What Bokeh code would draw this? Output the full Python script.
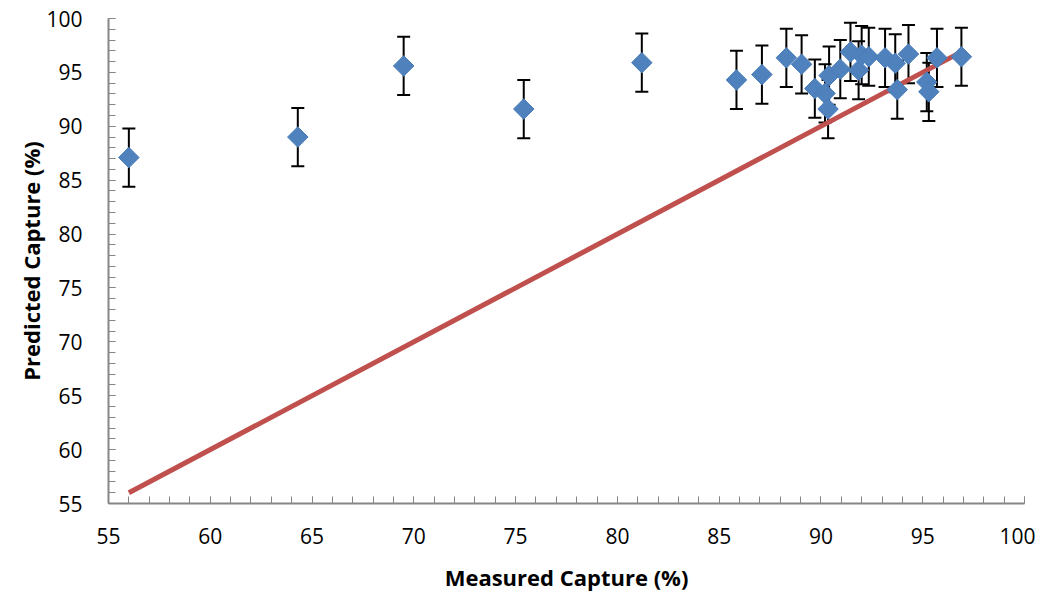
import math
from bokeh.plotting import figure
from bokeh.models import ColumnDataSource, Whisker, TeeHead, FixedTicker, Range1d
from bokeh.embed import file_html
from bokeh.resources import INLINE

measured = [56.0, 64.3, 69.5, 75.4, 81.2, 85.85, 87.1, 88.3, 89.05, 89.7, 90.2, 90.35, 90.4,
            90.95, 91.45, 91.85, 92.0, 92.35, 93.15, 93.65, 93.75, 94.3, 95.2, 95.3, 95.7, 96.9]
predicted = [87.1, 89.0, 95.6, 91.6, 95.9, 94.3, 94.8, 96.35, 95.75, 93.5, 93.05, 91.6, 94.7,
             95.3, 96.9, 95.2, 96.6, 96.45, 96.35, 95.85, 93.4, 96.7, 94.1, 93.2, 96.35, 96.45]
error = [2.7] * len(measured)

line_x = [56.0, 96.9]
line_y = [56.0, 96.9]

ticks = [55, 60, 65, 70, 75, 80, 85, 90, 95, 100]

FONT = "Open Sans"

src = ColumnDataSource(data=dict(
    x=measured, y=predicted,
    lo=[p - e for p, e in zip(predicted, error)],
    hi=[p + e for p, e in zip(predicted, error)],
))

p = figure(frame_width=916, frame_height=485, width=1035, height=579,
           x_range=Range1d(55, 100), y_range=Range1d(55, 100),
           output_backend="svg", toolbar_location=None,
           min_border_left=108, min_border_right=11, min_border_top=18, min_border_bottom=76)
p.outline_line_color = None
p.xgrid.visible = False
p.ygrid.visible = False

p.line(line_x, line_y, line_color="#C0504D", line_width=5)

w = Whisker(source=src, base="x", lower="lo", upper="hi", dimension="height",
            line_color="black", line_width=2,
            lower_head=TeeHead(size=13, line_color="black", line_width=2),
            upper_head=TeeHead(size=13, line_color="black", line_width=2),
            level="underlay")
p.add_layout(w)

p.scatter("x", "y", source=src, marker="square", size=14.5, angle=math.pi / 4,
          fill_color="#4F81BD", line_color="#4A7EBB", line_width=1)

for ax in (p.xaxis[0], p.yaxis[0]):
    ax.ticker = FixedTicker(ticks=ticks, minor_ticks=list(range(55, 101)))
    ax.axis_line_color = "#868686"
    ax.axis_line_width = 2
    ax.major_tick_line_color = "#868686"
    ax.minor_tick_line_color = "#868686"
    ax.major_tick_in = 7
    ax.major_tick_out = 0
    ax.minor_tick_in = 7
    ax.minor_tick_out = 0
    ax.major_label_text_font = FONT
    ax.major_label_text_font_size = "21px"
    ax.major_label_text_color = "black"
    ax.axis_label_text_font = FONT
    ax.axis_label_text_font_style = "bold"
    ax.axis_label_text_font_size = "22px"
    ax.axis_label_text_color = "black"

p.xaxis.axis_label = "Measured Capture (%)"
p.yaxis.axis_label = "Predicted Capture (%)"
p.xaxis.major_label_standoff = 24
p.yaxis.major_label_standoff = 26
p.xaxis.axis_label_standoff = 15
p.yaxis.axis_label_standoff = -3

open("out.html", "w").write(file_html(p, INLINE))
